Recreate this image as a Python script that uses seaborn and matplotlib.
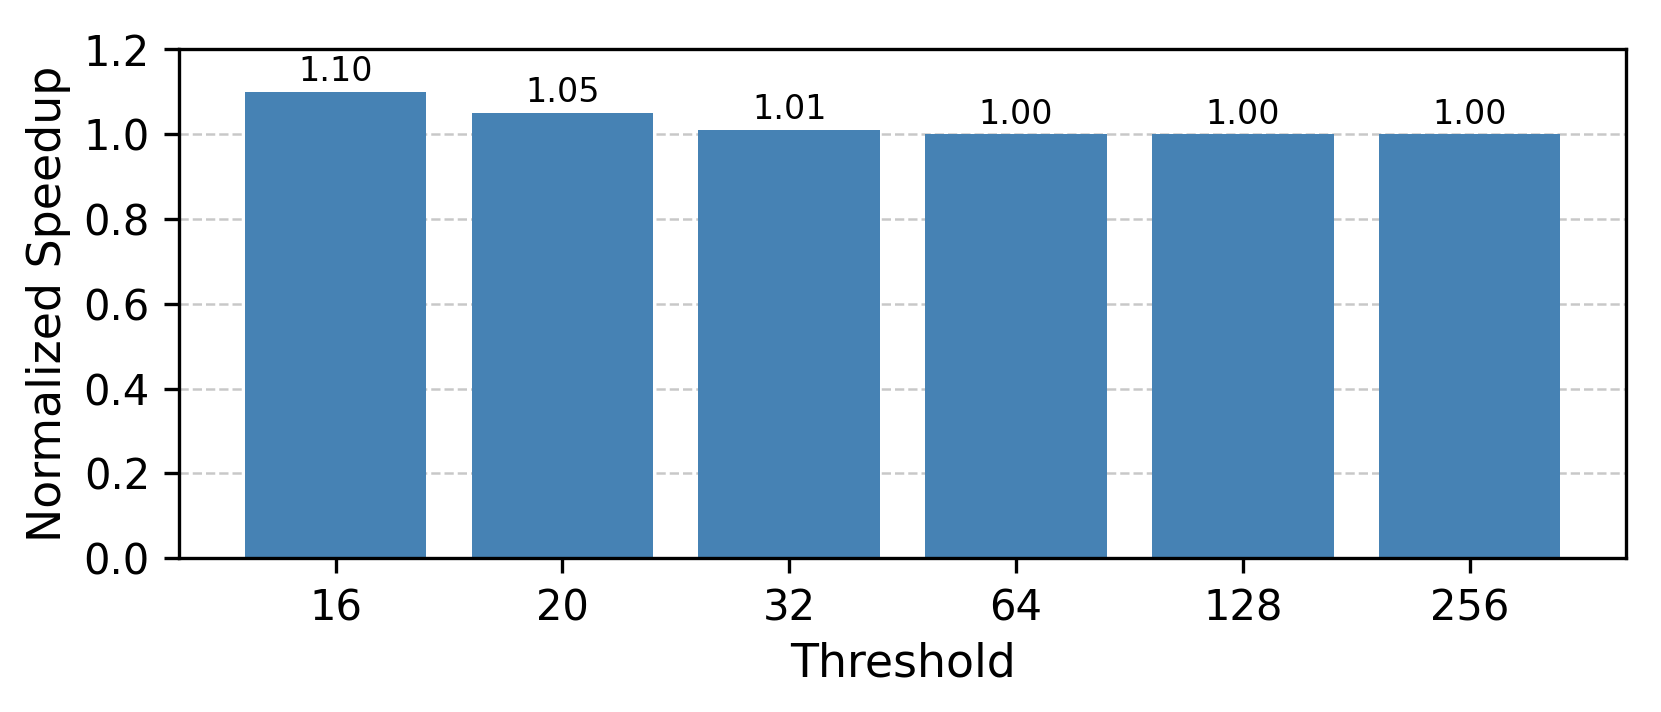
import matplotlib
matplotlib.use("Agg")
import matplotlib.pyplot as plt
import seaborn as sns
import pandas as pd

thresholds = ["16", "20", "32", "64", "128", "256"]
speedups = [1.10, 1.05, 1.01, 1.00, 1.00, 1.00]

plt.rcdefaults()
plt.rcParams['font.family'] = ['DejaVu Sans']

df = pd.DataFrame({"Threshold": thresholds, "Speedup": speedups})

fig, ax = plt.subplots(figsize=(1661/300, 712/300), dpi=300)
fig.subplots_adjust(left=0.1078, right=0.979, top=0.931, bottom=0.216)

ax.set_axisbelow(True)
ax.yaxis.grid(True, linestyle='--', color='#bbbbbb', linewidth=0.6, alpha=0.8)
sns.barplot(data=df, x="Threshold", y="Speedup", color="steelblue",
            saturation=1, width=0.8, ax=ax, errorbar=None, linewidth=0)

ax.bar_label(ax.containers[0], fmt="%.2f", fontsize=8, padding=0.8)

ax.set_ylim(0, 1.2)
ax.set_yticks([0, 0.2, 0.4, 0.6, 0.8, 1.0, 1.2])
ax.set_xlim(-0.69, 5.69)
ax.set_xlabel("Threshold", fontsize=11, labelpad=3)
ax.set_ylabel("Normalized Speedup", fontsize=11, labelpad=3)
ax.tick_params(labelsize=10)

fig.savefig("out.png", dpi=300)
